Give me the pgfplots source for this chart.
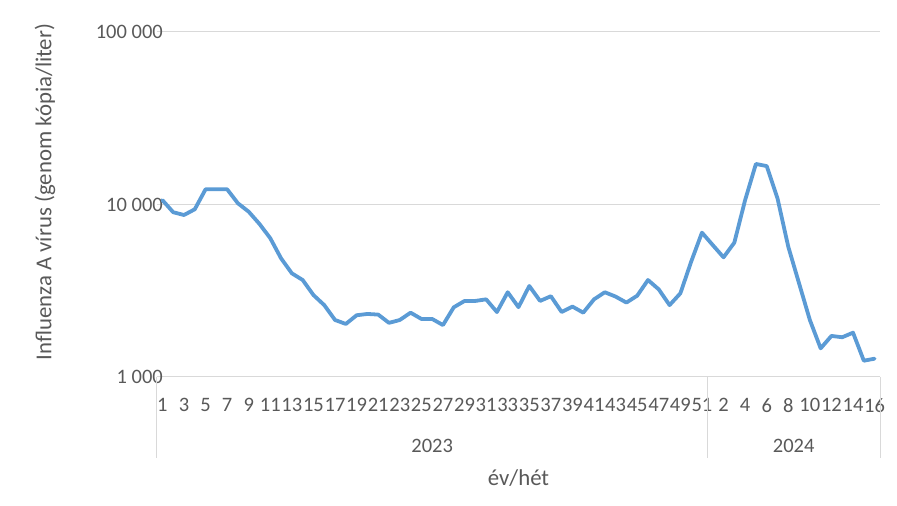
\documentclass[border=0pt]{standalone}
\usepackage{fontspec}
\setmainfont{Carlito}
\usepackage{pgfplots}
\pgfplotsset{compat=1.18}
\definecolor{txt}{HTML}{595959}
\definecolor{gridc}{HTML}{D9D9D9}
\definecolor{linec}{HTML}{5B9BD5}
\newcommand\cf{\fontsize{20.5}{24}\selectfont}
\newcommand\tf{\fontsize{22.8}{27}\selectfont}
\begin{document}
\begin{tikzpicture}
\useasboundingbox (-157pt,-129pt) rectangle (740pt,377pt);
\begin{axis}[
  at={(0,0)}, anchor=south west,
  scale only axis, width=723pt, height=345pt,
  ymode=log, ymin=1000, ymax=100000,
  xmin=-0.5, xmax=66.5,
  clip=false,
  axis line style={draw=none},
  ymajorgrids, grid style={gridc, line width=1pt},
  major tick length=0pt,
  ytick={1000,10000,100000},
  yticklabels={1\ 000,10\ 000,100\ 000},
  xtick={0,2,4,6,8,10,12,14,16,18,20,22,24,26,28,30,32,34,36,38,40,42,44,46,48,50,52,54,56,58,60,62,64,66},
  xticklabels={1,3,5,7,9,11,13,15,17,19,21,23,25,27,29,31,33,35,37,39,41,43,45,47,49,51,2,4,6,8,10,12,14,16},
  /pgf/number format/assume math mode=true,
  tick label style={font=\cf, text=txt, inner sep=0pt},
  xticklabel style={anchor=north, yshift=-21pt},
  yticklabel style={anchor=east, xshift=6pt},
  minor tick num=0,
  log basis y=10,
]
\addplot[linec, line width=3.8pt, line join=round, line cap=round] table {
x y
0 10600
1 9020
2 8690
3 9380
4 12250
5 12250
6 12250
7 10160
8 9080
9 7710
10 6370
11 4870
12 3990
13 3650
14 2985
15 2610
16 2140
17 2030
18 2280
19 2320
20 2300
21 2060
22 2140
23 2360
24 2170
25 2170
26 2000
27 2535
28 2760
29 2760
30 2820
31 2380
32 3100
33 2540
34 3370
35 2760
36 2940
37 2380
38 2560
39 2360
40 2820
41 3100
42 2925
43 2700
44 2960
45 3650
46 3220
47 2610
48 3055
49 4660
50 6870
51 5820
52 4940
53 6010
54 10600
55 17180
56 16700
57 10860
58 5690
59 3490
60 2140
61 1466
62 1730
63 1700
64 1807
65 1243
66 1277
};
\draw[gridc, line width=1pt] (axis cs:-0.5,1000) -- ([yshift=-81pt]axis cs:-0.5,1000);
\draw[gridc, line width=1pt] (axis cs:50.5,1000) -- ([yshift=-81pt]axis cs:50.5,1000);
\draw[gridc, line width=1pt] (axis cs:66.5,1000) -- ([yshift=-81pt]axis cs:66.5,1000);
\node[font=\cf, text=txt] at ([yshift=-69pt]axis cs:25,1000) {2023};
\node[font=\cf, text=txt] at ([yshift=-69pt]axis cs:58.5,1000) {2024};
\node[font=\tf, text=txt] at ([yshift=-101pt]axis description cs:0.5,0) {év/hét};
\node[font=\tf, text=txt, rotate=90] at ([xshift=-112pt]axis description cs:0,0.536) {Influenza A vírus (genom kópia/liter)};
\end{axis}
\end{tikzpicture}
\end{document}
